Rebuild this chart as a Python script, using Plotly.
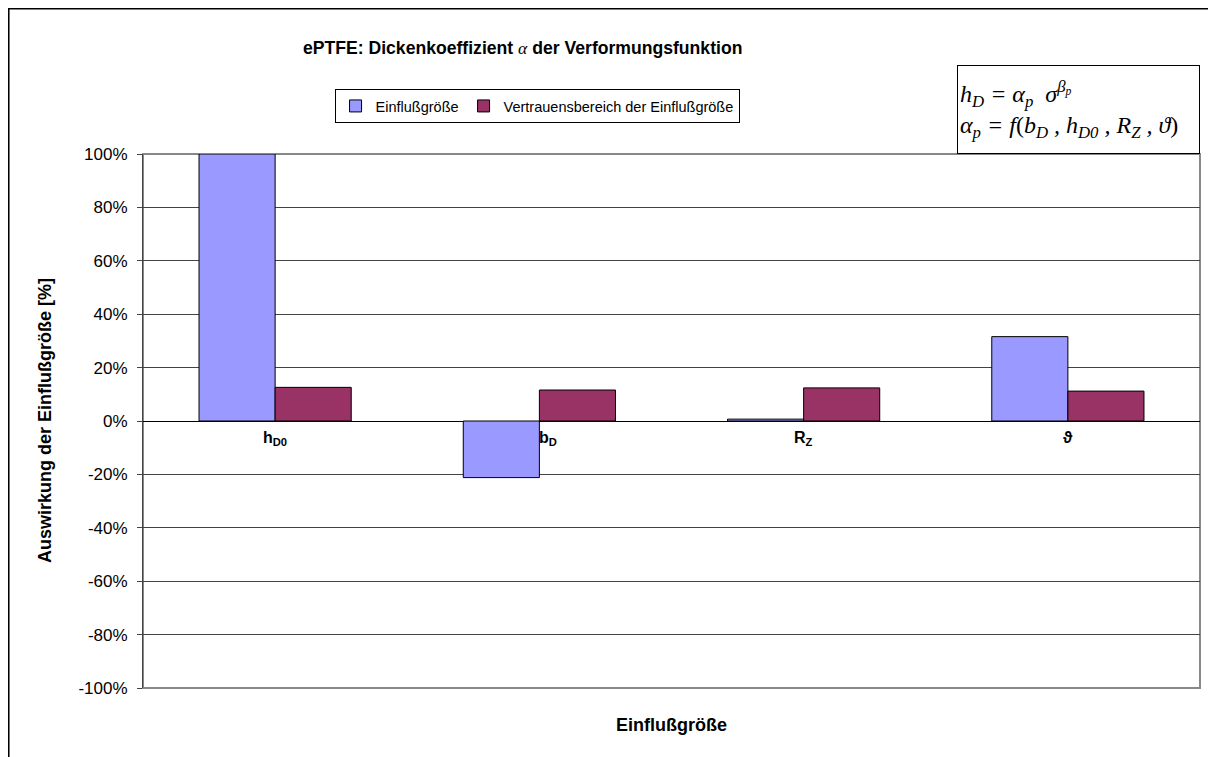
import plotly.graph_objects as go

categories = ["h<sub>D0</sub>", "b<sub>D</sub>", "R<sub>Z</sub>", "ϑ"]
einfluss = [1.00, -0.212, 0.007, 0.316]
vertrauen = [0.126, 0.116, 0.124, 0.112]
series_names = ["Einflußgröße", "Vertrauensbereich der Einflußgröße"]
y_ticks = [-1.0, -0.8, -0.6, -0.4, -0.2, 0.0, 0.2, 0.4, 0.6, 0.8, 1.0]
y_tick_labels = ["-100%", "-80%", "-60%", "-40%", "-20%", "0%", "20%", "40%", "60%", "80%", "100%"]

x_keys = ["c0", "c1", "c2", "c3"]

fig = go.Figure()
fig.add_trace(go.Bar(x=x_keys, y=einfluss, name=series_names[0],
                     marker=dict(color="#9999FF", line=dict(color="#000000", width=1))))
fig.add_trace(go.Bar(x=x_keys, y=vertrauen, name=series_names[1],
                     marker=dict(color="#993366", line=dict(color="#000000", width=1))))

font_family = "Liberation Sans, Arial, sans-serif"

# label nudges (Excel moves a label that would sit on a bar edge)
label_xshift = {"c1": 9}

annotations = []
for k, lab in zip(x_keys, categories):
    annotations.append(dict(x=k, y=0, xref="x", yref="y", text="<b>" + lab + "</b>",
                            showarrow=False, yanchor="top", yshift=-6,
                            xshift=label_xshift.get(k, 0),
                            font=dict(family=font_family, size=16, color="#000")))

# Title
annotations.append(dict(
    x=0.3586, y=1.1985, xref="paper", yref="paper", showarrow=False,
    xanchor="center", yanchor="middle",
    text="<b>ePTFE: Dickenkoeffizient </b><span style='font-family:Liberation Serif'><i>α</i></span><b> der Verformungsfunktion</b>",
    font=dict(family=font_family, size=17.6, color="#000")))

# Axis titles
annotations.append(dict(
    x=-0.0927, y=0.5, xref="paper", yref="paper", showarrow=False, textangle=-90,
    xanchor="center", yanchor="middle",
    text="<b>Auswirkung der Einflußgröße [%]</b>",
    font=dict(family=font_family, size=18, color="#000")))
annotations.append(dict(
    x=0.5, y=-0.0693, xref="paper", yref="paper", showarrow=False,
    xanchor="center", yanchor="middle",
    text="<b>Einflußgröße</b>",
    font=dict(family=font_family, size=18, color="#000")))

# Formula box
annotations.append(dict(
    x=1.0, y=1.1667, xref="paper", yref="paper", showarrow=False,
    xanchor="right", yanchor="top", align="left",
    text="<i>h<sub>D</sub> = α<sub>p</sub>  σ<sup>β<sub>p</sub></sup></i><br><i>α<sub>p</sub> = f</i>(<i>b<sub>D</sub> , h<sub>D0</sub> , R<sub>Z</sub> , ϑ</i>)",
    font=dict(family="Liberation Serif, Times New Roman, serif", size=24, color="#000"),
    bordercolor="#000", borderwidth=1, borderpad=2, bgcolor="#fff",
    width=237, height=83))

shapes = [
    dict(type="rect", xref="paper", yref="paper", x0=0, x1=1, y0=0, y1=1,
         line=dict(color="#888888", width=2), layer="below"),
    dict(type="rect", xref="paper", yref="paper", x0=-0.1272, x1=1.03, y0=-0.16, y1=1.2725,
         line=dict(color="#000", width=2), fillcolor="rgba(0,0,0,0)", layer="below"),
]

fig.update_layout(
    width=1216, height=757,
    margin=dict(l=135, r=24, t=146, b=77, autoexpand=False),
    paper_bgcolor="#fff", plot_bgcolor="#fff",
    barmode="group", bargap=0.424, bargroupgap=0,
    showlegend=True,
    legend=dict(orientation="h", x=0.3728, y=1.1217, xanchor="center", yanchor="top",
                bordercolor="#000", borderwidth=1, bgcolor="#fff",
                font=dict(family=font_family, size=14.5, color="#000"),
                itemwidth=30, tracegroupgap=0),
    annotations=annotations,
    shapes=shapes,
    font=dict(family=font_family, color="#000"),
)
fig.update_xaxes(showticklabels=False, showgrid=False, zeroline=False, showline=False,
                 ticks="")
fig.update_yaxes(range=[-1, 1], tickvals=y_ticks, ticktext=y_tick_labels,
                 showgrid=True, gridcolor="#444444", gridwidth=1,
                 zeroline=True, zerolinecolor="#000", zerolinewidth=1,
                 showline=True, linecolor="#444444", linewidth=1,
                 ticks="outside", ticklen=5, tickcolor="#444444",
                 ticklabelstandoff=6,
                 tickfont=dict(family=font_family, size=17, color="#000"))

fig.write_html("out.html")
